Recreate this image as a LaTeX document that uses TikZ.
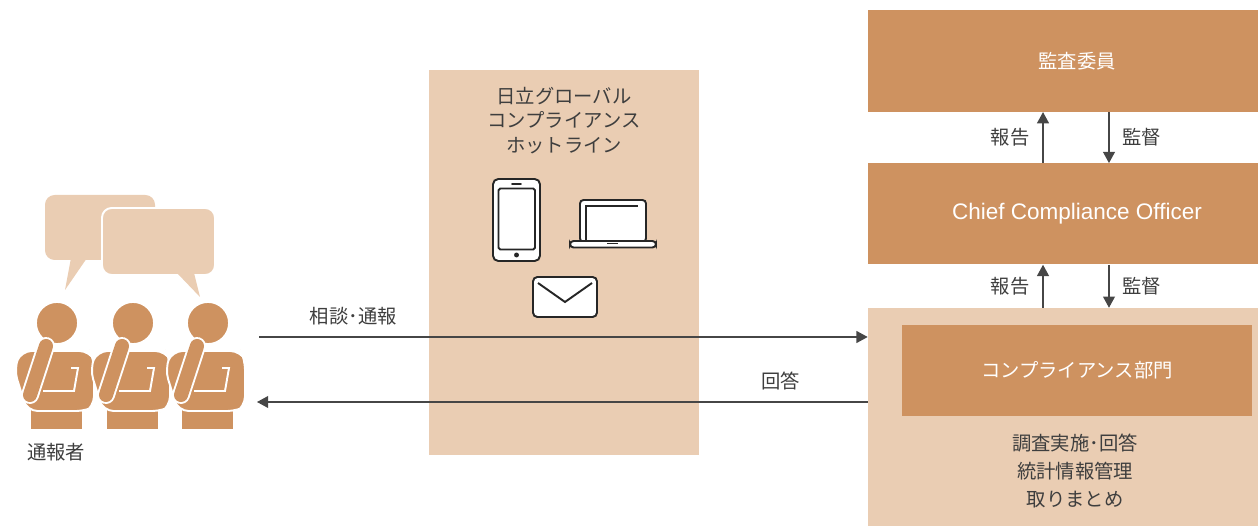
\documentclass[tikz,border=0pt]{standalone}
\usepackage{fontspec}
\setmainfont{Noto Sans CJK JP}
\newfontfamily\latinsans{Liberation Sans}
\usetikzlibrary{arrows.meta, positioning}

\definecolor{ochre}{RGB}{206,146,96}
\definecolor{sand}{RGB}{234,205,179}
\definecolor{inkgray}{RGB}{62,62,62}
\definecolor{wiregray}{RGB}{70,70,70}

\tikzstyle{orgbox} = [rectangle, fill=ochre, text=white, font=\fontsize{11}{14}\selectfont, minimum width=8.36cm, minimum height=2.03cm]
\tikzstyle{panel} = [rectangle, fill=sand]
\tikzstyle{caption} = [text=inkgray, font=\fontsize{11}{14}\selectfont, align=center]
\tikzstyle{line} = [draw=wiregray, line width=0.7pt, -{Triangle[length=6.4pt, width=6.8pt]}]
\tikzstyle{icon} = [draw=black!85, line width=1.1pt, fill=white]

% one person of the group, origin at the centre of the head
\tikzset{
  reporter/.pic={
    \fill[ochre] (-26,84) rectangle (25,106);
    \filldraw[fill=ochre, draw=white, line width=1.1pt, rounded corners=6pt]
      (-36,28) -- (33,28) -- (37,36) -- (37,84) -- (30,88) -- (-30,88) -- (-43,46) -- cycle;
    \draw[white, line width=1.1pt] (-14,68) -- (17,68) -- (21,45) -- (14,45);
    \filldraw[fill=ochre, draw=white, line width=1.1pt] (0,0) circle[radius=12pt];
    \draw[white, line width=10.2pt, line cap=round] (-11,23) -- (-27,72);
    \draw[ochre, line width=8pt, line cap=round] (-11,23) -- (-27,72);
  }
}

\begin{document}
\begin{tikzpicture}[x=0.02cm, y=-0.02cm, node distance=1cm]
    \useasboundingbox (0,0) rectangle (1258,526);
    \clip (0,0) rectangle (1258,526);

    % reporting line on the right
    \node (kansa) [orgbox] at (1077,61) {監査委員};
    \node (cco) [orgbox, below=1.02cm of kansa, minimum height=2.02cm, font=\latinsans\fontsize{12.8}{14}\selectfont] {Chief Compliance Officer};
    \node (compl) [panel, below=0.86cm of cco, minimum width=8.36cm, minimum height=4.8cm] {};
    \node (dept) [orgbox, below=0.34cm of compl.north, minimum width=7.02cm, minimum height=1.82cm] {コンプライアンス部門};
    \node (tasks) [caption, font=\fontsize{11}{15.9}\selectfont] at (1075,471) {調査実施･回答\\統計情報管理\\取りまとめ};

    \path [line] ([xshift=-0.68cm]cco.north) -- ([xshift=-0.68cm]kansa.south) node[midway, left=4pt, caption] {報告};
    \path [line] ([xshift=0.64cm]kansa.south) -- ([xshift=0.64cm]cco.north) node[midway, right=4pt, caption] {監督};
    \path [line] ([xshift=-0.68cm]compl.north) -- ([xshift=-0.68cm]cco.south) node[midway, left=4pt, caption] {報告};
    \path [line] ([xshift=0.64cm]cco.south) -- ([xshift=0.64cm]compl.north) node[midway, right=4pt, caption] {監督};

    % hotline panel with its channels
    \node (hotline) [panel, minimum width=5.4cm, minimum height=7.7cm] at (564,262.5) {};
    \node (hltitle) [caption] at (564,120.5) {日立グローバル\\コンプライアンス\\ホットライン};

    % phone
    \draw[icon, rounded corners=3pt] (493,179) rectangle (540,261);
    \draw[icon, rounded corners=1pt] (498.5,188.5) rectangle (535,249.5);
    \draw[icon, line cap=round] (512,184) -- (521,184);
    \fill[black!85] (516.5,255) circle[radius=1.4pt];
    % laptop
    \draw[icon, rounded corners=2pt] (580,242) rectangle (646,200);
    \draw[icon] (586,241) -- (586,206) -- (638,206);
    \draw[icon, rounded corners=2pt] (570,241) rectangle (656,247.5);
    \draw[icon] (607,243.5) -- (618,243.5);
    % mail
    \draw[icon, rounded corners=2.5pt] (533,277) rectangle (597,317);
    \draw[icon, fill=none] (538,283) -- (565,302) -- (592,283);

    % flows between reporters and the compliance side
    \coordinate (talk) at (259,337);
    \coordinate (reply) at (257,402);
    \path [line] (talk) -- (talk -| compl.west) node[pos=0.155, above=3pt, caption] {相談･通報};
    \path [line] (reply -| compl.west) -- (reply) node[pos=0.142, above=3pt, caption] {回答};

    % speech bubbles
    \fill[sand, rounded corners=5.5pt] (45,195) rectangle (155,260);
    \fill[sand] (71,258) -- (65,290) -- (87,258) -- cycle;
    \filldraw[fill=sand, draw=white, line width=1.1pt, rounded corners=5.5pt] (102,208) rectangle (215,275);
    \fill[sand] (177,273) -- (200,297) -- (194,273) -- cycle;

    % the reporters
    \pic (rep1) at (57,323) {reporter};
    \pic (rep2) at (133,323) {reporter};
    \pic (rep3) at (208,323) {reporter};
    \node (reporters) [caption] at (56,452) {通報者};

\end{tikzpicture}
\end{document}
